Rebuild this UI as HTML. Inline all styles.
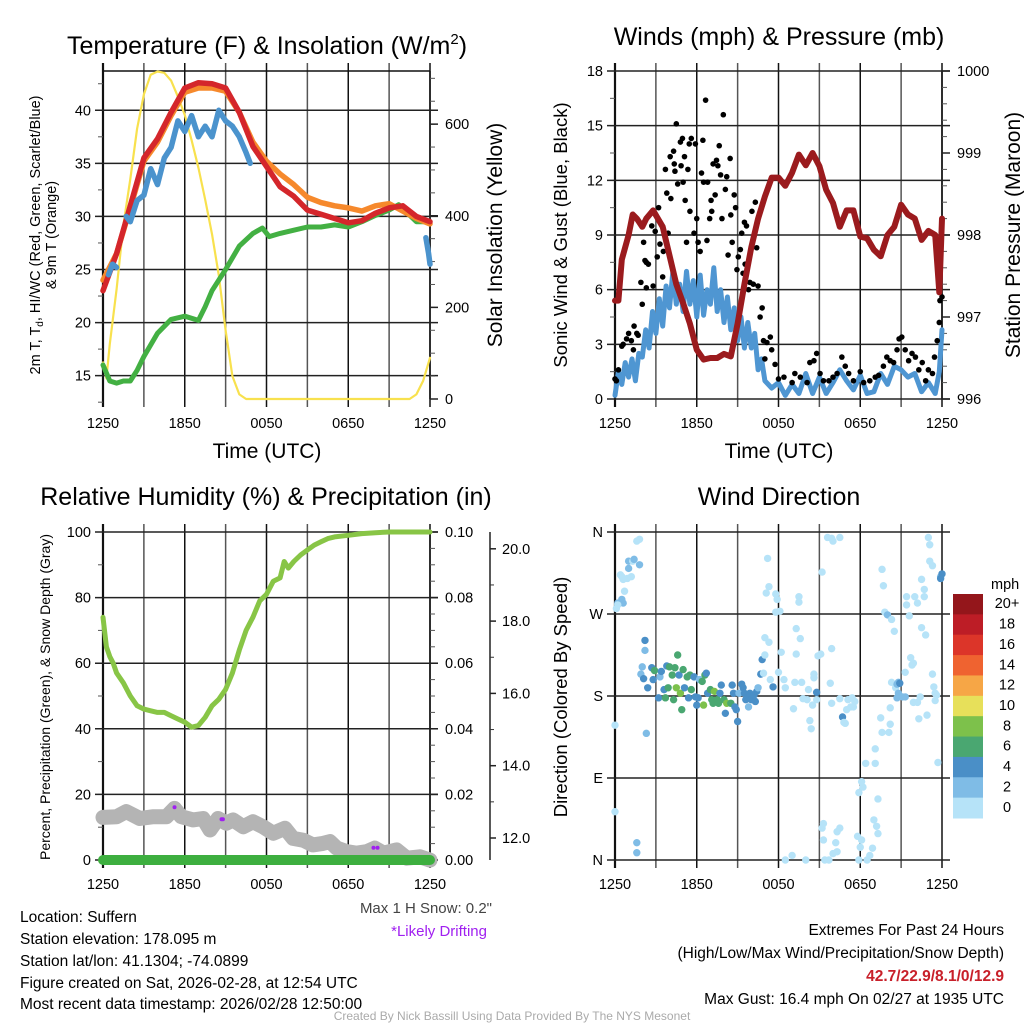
<!DOCTYPE html>
<html><head><meta charset="utf-8"><style>
html,body{margin:0;padding:0;background:#fff;}
svg{display:block;font-family:"Liberation Sans",sans-serif;}
</style></head><body>
<svg id="fig" width="1024" height="1024" viewBox="0 0 1024 1024" xmlns="http://www.w3.org/2000/svg">
<rect width="1024" height="1024" fill="#fff"/>
<g id="layer"></g>
<text x="267" y="54" font-size="25" text-anchor="middle">Temperature (F) &amp; Insolation (W/m<tspan dy="-10" font-size="15">2</tspan><tspan dy="10">)</tspan></text>
<text x="779" y="45" font-size="25" text-anchor="middle">Winds (mph) &amp; Pressure (mb)</text>
<text x="266" y="505" font-size="25" text-anchor="middle">Relative Humidity (%) &amp; Precipitation (in)</text>
<text x="779" y="505" font-size="25" text-anchor="middle">Wind Direction</text>
<text x="267" y="458" font-size="21" text-anchor="middle">Time (UTC)</text>
<text x="779" y="458" font-size="21" text-anchor="middle">Time (UTC)</text>
<text transform="translate(40,235) rotate(-90)" font-size="14.5" text-anchor="middle">2m T, T<tspan font-size="10" dy="3">d</tspan><tspan dy="-3">, HI/WC (Red, Green, Scarlet/Blue)</tspan></text>
<text transform="translate(56,235) rotate(-90)" font-size="14.5" text-anchor="middle">&amp; 9m T (Orange)</text>
<text transform="translate(502,235) rotate(-90)" font-size="21" text-anchor="middle">Solar Insolation (Yellow)</text>
<text transform="translate(567,235) rotate(-90)" font-size="18.5" text-anchor="middle">Sonic Wind &amp; Gust (Blue, Black)</text>
<text transform="translate(1020,235) rotate(-90)" font-size="21" text-anchor="middle">Station Pressure (Maroon)</text>
<text transform="translate(50,697) rotate(-90)" font-size="14" text-anchor="middle">Percent, Precipitation (Green), &amp; Snow Depth (Gray)</text>
<text transform="translate(567,697) rotate(-90)" font-size="18.5" text-anchor="middle">Direction (Colored By Speed)</text>
<text x="492" y="913" font-size="15" fill="#444" text-anchor="end">Max 1 H Snow: 0.2"</text>
<text x="487" y="936" font-size="15" fill="#a020f0" text-anchor="end">*Likely Drifting</text>
<g font-size="15.5">
<text x="20" y="922">Location: Suffern</text>
<text x="20" y="944">Station elevation: 178.095 m</text>
<text x="20" y="966">Station lat/lon: 41.1304; -74.0899</text>
<text x="20" y="988">Figure created on Sat, 2026-02-28, at 12:54 UTC</text>
<text x="20" y="1009">Most recent data timestamp: 2026/02/28 12:50:00</text>
</g>
<g font-size="15.5" text-anchor="end">
<text x="1004" y="935">Extremes For Past 24 Hours</text>
<text x="1004" y="958">(High/Low/Max Wind/Precipitation/Snow Depth)</text>
<text x="1004" y="981" fill="#c8202a" font-weight="bold">42.7/22.9/8.1/0/12.9</text>
<text x="1004" y="1004">Max Gust: 16.4 mph On 02/27 at 1935 UTC</text>
</g>
<text x="512" y="1020" font-size="12" fill="#aaa" text-anchor="middle">Created By Nick Bassill Using Data Provided By The NYS Mesonet</text>
</svg>
<script>
// ---------- DATA ----------
const redH=[0,1,2,3,4,5,6,7,8,9,10,11,12,13,14,15,16,17,18,19,20,21,22,23,24];
const redV=[23,26.5,31,35.5,37.3,39.8,42.1,42.6,42.5,42.1,39.8,36.6,34.7,32.8,31.9,30.6,30.2,29.8,29.4,29.6,30.3,30.8,31,30,29.5];
const orangeH=[0,1,2,3,4,5,6,7,8,9,10,11,12,13,14,15,16,17,18,19,20,21,22,23,24];
const orangeV=[24,26.5,30.8,35.2,37,39.5,41.7,42.1,42.1,41.8,39.8,37,35.2,34,33,31.8,31.3,31,30.8,30.5,31,31.2,30.5,29.8,29.3];
const blueH=[0.4,0.7,1,null,1.7,2,2.5,3,3.5,4,4.5,5,5.5,6,6.5,7,7.5,8,8.5,9,9.5,10,10.5,10.8,null,23.7,23.9,24];
const blueV=[24.5,25.5,25.2,null,30,29.5,31.5,32,34.5,33,35.5,36.5,39,38,39.5,37.5,38.5,37.5,40,39,38.5,37.5,36,35,null,28,26.5,25.5];
const greenH=[0,0.5,1,1.5,2,2.5,3,4,5,6,7,7.5,8,9,10,11,11.7,12.2,13,14,15,16,17,18,19,20,21,21.7,23,24];
const greenV=[16,14.5,14.3,14.5,14.5,15.5,16.8,19,20.3,20.6,20.2,21.5,23,25,27.2,28.4,28.9,28.1,28.4,28.7,29,29,29.2,29,29.5,30.1,30.6,31.1,29.5,29.5];
const solarH=[0,0.25,0.5,1,1.5,2,2.5,3,3.5,4,4.5,5,5.5,6,6.5,7,7.5,8,8.5,9,9.5,10,10.5,22.5,23,23.5,24];
const solarV=[80,45,120,240,380,480,590,665,708,715,712,695,660,620,565,505,435,360,270,150,50,10,0,0,10,40,90];

const presH=[0,0.25,0.5,1,1.3,1.6,2,2.3,2.8,3.5,4,4.5,5,5.5,6,6.5,7,7.5,8,8.5,9,9.5,10,10.5,11,11.5,12,12.5,13,13.5,14,14.5,15,15.5,16,16.5,17,17.5,18,18.5,19,19.5,20,20.5,21,21.5,22,22.5,23,23.5,23.8,24];
const presV=[997.2,997.2,997.7,998.0,998.25,998.2,998.1,998.2,998.3,998.1,997.75,997.4,997.17,996.92,996.6,996.48,996.5,996.5,996.55,996.52,996.92,997.4,997.85,998.2,998.47,998.7,998.7,998.6,998.76,998.98,998.85,999.0,998.84,998.55,998.39,998.1,998.3,998.3,997.98,997.96,997.82,997.74,998.0,998.1,998.37,998.25,998.2,997.94,998.05,998.0,997.3,998.2];
const windH=[0,0.25,0.5,0.75,1,1.25,1.5,1.75,2,2.25,2.5,2.75,3,3.25,3.5,3.75,4,4.25,4.5,4.75,5,5.25,5.5,5.75,6,6.25,6.5,6.75,7,7.25,7.5,7.75,8,8.25,8.5,8.75,9,9.25,9.5,9.75,10,10.25,10.5,10.75,11,11.5,12,12.5,13,13.5,14,14.5,15,15.5,16,16.5,17,17.5,18,18.5,19,19.5,20,20.5,21,21.5,22,22.5,23,23.5,23.8,24];
const windV=[0.2,1.5,0.8,2,1.2,2.2,1,2.5,2.3,3.8,2.8,4.8,3.6,5.5,4,6.2,5,7,5.2,6.3,4.8,7,5.2,6.5,4.5,6.8,4.6,6,5.2,7.2,4.8,6,4.2,5.6,3.8,5,3.2,4.5,2.8,4.2,2.8,3.6,1.6,2.2,1,0.6,0.9,0.2,0.8,0.3,1.4,0.3,1.2,0.3,0.9,1.6,1,0.5,1.3,0.3,0.4,1.4,0.8,1.8,1.6,1.2,1.4,0.4,0.9,0.3,1.5,3.8];
const gustH=[0,0.1,0.25,0.5,0.6,0.85,1,1.2,1.35,1.4,1.6,1.7,1.9,2,2.1,2.2,2.3,2.45,2.3,2.7,2.8,2.95,3.1,3.2,3.3,3.5,3.55,3.7,3.8,3.9,4.05,4.1,4.3,4.35,4.4,4.5,4.6,4.8,4.85,4.95,5,5.1,5.15,5.25,5.35,5.45,5.5,5.6,5.8,5.9,6,6.1,6.25,6.35,6.45,6.5,6.65,6.75,6.8,6.95,7.05,7.1,7.2,7.35,7.45,7.55,7.65,7.75,7.85,7.95,8.1,8.2,8.3,8.45,8.5,8.6,8.75,8.85,8.95,9.05,9.2,9.3,9.4,9.5,9.55,9.65,9.8,9.9,10.05,10.15,10.3,10.4,10.5,10.65,10.8,10.9,11,11.15,11.4,11.5,11.75,12,12.4,13,13.2,13.6,14.1,14.3,14.6,14.8,15.05,15.3,15.7,16,16.3,16.65,16.9,17.15,17.5,18,18.25,18.7,19.1,19.35,19.7,19.95,20.2,20.45,20.7,20.85,21.05,21.3,21.55,21.8,22.05,22.3,22.55,22.8,23,23.3,23.45,23.65,23.8,23.85,24];
const gustV=[1.1,1.0,1.6,2.9,3.0,3.3,3.6,3.2,2.7,4.0,3.6,3.5,6.4,5.2,8.6,7.6,7.5,7.4,6.1,9.5,6.2,9.2,7.8,10.5,8.5,6.7,8.1,12.6,11.3,9.1,13.3,11.0,13.6,12.9,12.5,15.1,11.8,14.1,12.8,14.3,11.9,13.3,10.9,8.6,12.6,14.0,10.3,14.3,9.1,14.0,9.9,8.6,8.1,12.4,14.2,11.9,16.4,8.7,11.9,9.9,10.9,10.3,12.9,11.2,13.1,12.8,13.9,12.3,9.9,15.6,11.5,12.2,7.9,13.2,10.1,8.6,11.2,10.5,7.1,7.8,8.2,9.1,6.9,9.7,7.4,9.5,6.0,6.4,10.3,6.3,10.8,8.3,6.2,4.5,5.0,3.2,2.2,3.1,3.4,2.7,1.9,1.1,1.2,0.9,1.4,1.2,0.9,2.0,2.1,2.5,1.4,1.0,1.0,1.2,1.4,2.3,1.8,1.4,1.0,1.5,0.9,1.0,1.2,1.3,1.8,2.3,2.1,2.0,2.7,3.3,3.4,2.7,2.1,2.5,2.3,1.6,2.0,1.0,1.6,1.4,2.3,3.2,4.2,5.4,5.6];

const rhH=[0,0.25,0.5,0.75,1,1.5,2,2.5,3,3.5,4,4.5,5,5.5,6,6.5,7,7.5,8,8.5,9,9.5,10,10.5,11,11.5,12,12.5,13,13.3,13.6,14,14.5,15,15.5,16,16.5,17,18,19,20,21,24];
const rhV=[74,65,62,60,57,54,50,47,46,45.5,45,45,44,43,42,40.5,41,43.5,47,49,52,57,64,70,74,79,81,85,86,91,89,91,93,94.5,96,97,98,98.5,99,99.5,99.8,100,100];
const precipH=[0,24];
const precipV=[0,0];
const snowH=[0,1,1.7,2.7,3.7,4.65,5.25,5.75,6.6,7.35,7.85,8.45,9.05,9.55,10.3,11,11.75,12.5,13.35,13.95,14.7,15.4,16.15,16.65,17.15,17.9,18.6,19.35,19.95,20.6,21.55,22.3,23.25,24];
const snowV=[12.57,12.59,12.73,12.54,12.59,12.59,12.82,12.59,12.5,12.54,12.22,12.54,12.41,12.5,12.31,12.45,12.31,12.13,12.27,11.99,11.94,11.81,11.85,11.9,11.72,11.62,11.58,11.62,11.72,11.58,11.67,11.44,11.48,11.39];
const driftH=[5.25,8.7,8.8,19.85,20.15];
const driftV=[12.85,12.52,12.52,11.73,11.73];

const dirH=[0,0,0.1,0.2,0.4,0.5,0.6,0.7,0.9,1.0,1.0,1.2,1.3,1.4,1.6,1.8,1.8,0.5,0.6,0.2,1.6,1.6,2.3,2.2,2.2,2.0,1.9,2.1,2.4,2.7,2.8,2.9,3.2,3.3,3.4,3.6,3.7,3.8,3.9,4.0,4.2,4.3,4.4,4.5,4.6,4.7,4.8,4.9,5.0,5.1,5.3,5.4,5.5,5.6,5.8,5.9,6.0,6.1,6.2,6.4,6.5,6.6,6.7,6.8,7.0,7.1,7.2,7.3,7.5,7.6,7.7,7.8,8.0,8.1,8.2,8.5,8.6,8.7,8.8,8.9,9.0,9.1,9.3,9.4,9.5,9.6,9.7,9.8,9.9,10.0,10.2,10.3,10.4,10.5,10.7,10.8,10.9,11.0,11.3,11.0,11.2,11.3,11.1,11.8,11.9,11.8,12.1,11.6,11.4,12.0,12.2,12.4,12.5,13.1,13.2,13.3,13.3,13.6,13.5,13.5,13.7,13.8,14.1,14.2,14.3,14.4,14.5,14.6,14.6,14.8,14.8,14.9,15.1,15.2,15.6,15.9,16.0,16.5,15.8,15.9,15.9,16.5,16.7,16.8,16.9,17.0,17.1,17.3,17.4,17.5,17.6,17.9,18.1,18.2,18.4,19.1,19.1,19.3,17.8,18.1,18.0,17.9,18.5,18.7,18.9,19.0,19.2,19.3,15.3,15.2,15.3,15.4,15.7,16.2,16.3,16.5,16.0,16.3,12.5,13.0,14.0,19.5,19.6,20.1,20.2,20.2,19.6,19.7,19.8,20.0,20.3,20.5,20.3,20.6,20.7,20.8,20.9,20.8,21.1,21.3,20.7,21.3,21.4,21.4,21.6,21.7,21.9,21.8,21.9,22.2,22.3,22.4,22.0,22.2,22.5,22.7,22.7,22.5,22.8,22.9,23.0,23.1,23.1,23.3,23.3,23.4,23.5,23.5,23.6,23.7,23.9,24,23.9];
const dirDeg=[148,53,276,282,313,311,308,295,309,320,328,311,328,330,350,352,324,286,282,280,19,8,139,241,230,212,204,199,189,211,198,208,178,201,207,187,178,213,189,212,203,176,211,189,225,203,183,165,209,189,201,178,203,187,201,179,170,178,198,196,170,203,205,183,187,176,172,185,176,172,183,192,176,161,172,172,192,183,168,165,152,183,193,189,183,176,178,168,183,176,181,174,185,189,204,220,205,244,239,225,331,300,293,292,286,272,273,190,198,206,228,198,189,166,195,226,254,243,289,283,195,177,176,187,153,144,170,200,204,176,184,224,226,316,354,353,350,354,194,232,172,177,157,151,150,165,176,168,178,168,174,74,86,80,106,106,122,67,26,22,14,0,0,5,13,44,37,29,40,35,22,0,0,19,31,35,7,9,0,5,0,156,140,140,149,167,319,301,272,269,264,251,195,189,193,195,194,183,179,179,178,206,289,280,268,222,216,214,173,173,155,179,289,282,308,289,297,255,247,159,354,346,328,323,204,190,183,175,181,107,311,314,309];
const dirSpd=[1,1,1,3,1,1,1,1,1,3,3,1,1,3,1,1,3,3,3,1,3,3,3,5,3,3,3,5,5,5,5,7,5,3,5,5,7,5,7,7,7,7,7,9,7,5,9,7,7,5,7,5,7,7,5,5,5,5,3,7,9,7,5,5,7,7,7,9,7,7,5,5,7,5,9,7,5,5,5,5,5,3,5,5,5,5,5,3,5,5,5,5,5,3,5,5,1,1,1,1,1,1,1,1,1,1,1,5,1,1,1,1,1,1,1,1,1,1,1,1,1,1,1,1,1,1,1,1,1,1,5,1,1,1,1,1,1,1,1,1,1,1,5,1,1,1,1,1,1,1,1,1,1,1,1,1,1,1,1,1,1,1,1,1,1,1,1,1,1,1,1,1,1,1,1,1,1,1,1,1,1,1,1,1,1,1,1,1,1,3,1,1,1,1,3,3,5,3,3,3,3,1,1,1,1,1,1,1,1,1,1,1,1,1,1,1,1,1,1,1,1,1,1,1,1,1,1,1,1,1,3,5,5,3];
const cbLabels=['20+','18','16','14','12','10','8','6','4','2','0'];
const cbColors=['#94161b','#bd1d26','#dc3529','#ef6330','#f6a646','#e7e05a','#7dc14b','#4aa771','#4a8fc7','#7fbce6','#b6e3f8'];
const xTickLabels=['1250','1850','0050','0650','1250'];
const dirLabels=['N','E','S','W','N'];

// ---------- HELPERS ----------
const NS='http://www.w3.org/2000/svg';
const layer=document.getElementById('layer');
function mk(tag,attrs,parent){const e=document.createElementNS(NS,tag);for(const k in attrs)e.setAttribute(k,attrs[k]);(parent||layer).appendChild(e);return e;}
function spdColor(s){const i=Math.min(10,Math.floor(s/2));return cbColors[10-i];}
function pathFrom(hs,vs,xs,ys){let d='',pen=false;for(let i=0;i<hs.length;i++){if(hs[i]===null||vs[i]===null){pen=false;continue;}d+=(pen?'L':'M')+xs(hs[i]).toFixed(1)+','+ys(vs[i]).toFixed(1);pen=true;}return d;}
function series(g,hs,vs,xs,ys,color,w,name){
  const p=mk('path',{d:pathFrom(hs,vs,xs,ys),fill:'none',stroke:color,'stroke-width':w,'stroke-linejoin':'round','stroke-linecap':'round'},g);
  
  
  return p;
}
function frame(name,L,R,T,B){
  const g=mk('g',{});
  
  
  const xs=h=>L+h/24*(R-L);
  for(let h=0;h<=24;h+=3){
    const gl=mk('line',{x1:xs(h),x2:xs(h),y1:T-8,y2:B+8,stroke:(h%6===0)?'#111':'#555','stroke-width':h===0?2.2:1.5},g);
    
    
  }
  for(let i=0;i<xTickLabels.length;i++){
    const t=mk('text',{x:xs(i*6),y:B+29,'font-size':14.5,'text-anchor':'middle'},g);
    t.textContent=xTickLabels[i];
    
    
  }
  return {g,xs};
}
function yAxis(g,L,R,T,B,ys,majors,minors,labels,side,grid){
  for(const v of minors){const y=ys(v);
    const tk=mk('line',{x1:side==='left'?L-5:R,x2:side==='left'?L:R+5,y1:y,y2:y,stroke:'#555','stroke-width':1},g);
    
    
  }
  majors.forEach((v,i)=>{const y=ys(v);
    if(grid){const gl=mk('line',{x1:L-8,x2:R+8,y1:y,y2:y,stroke:'#222','stroke-width':1.5},g);
      
      }
    else{const tk=mk('line',{x1:side==='left'?L-8:R,x2:side==='left'?L:R+8,y1:y,y2:y,stroke:'#222','stroke-width':1.5},g);
      
      }
    const t=mk('text',{x:side==='left'?L-12:R+15,y:y+5,'font-size':14.5,'text-anchor':side==='left'?'end':'start'},g);
    t.textContent=labels[i];
    
    
  });
}
function range(a,b,s){const r=[];for(let v=a;v<=b+1e-9;v+=s)r.push(+v.toFixed(4));return r;}

// ---------- PANEL 1: TEMPERATURE ----------
(function(){
  const L=103,R=430,T=71,B=399;
  const f=frame('temperature-panel',L,R,T,B);
  const yT=v=>B-(v-12.8)/(43.7-12.8)*(B-T);
  const yI=v=>B-v/716*(B-T);
  mk('line',{x1:L,x2:R,y1:T,y2:T,stroke:'#111','stroke-width':1.5},f.g);
  mk('line',{x1:R,x2:R,y1:T,y2:B,stroke:'#111','stroke-width':1.5},f.g);
  yAxis(f.g,L,R,T,B,yT,[15,20,25,30,35,40],range(12.5,42.5,2.5),['15','20','25','30','35','40'],'left',true);
  yAxis(f.g,L,R,T,B,yI,[0,200,400,600],range(0,700,50),['0','200','400','600'],'right',false);
  series(f.g,solarH,solarV,f.xs,yI,'#f8e14e',2.2,'solar-insolation-line');
  series(f.g,greenH,greenV,f.xs,yT,'#43b043',5,'dewpoint-line');
  series(f.g,orangeH,orangeV,f.xs,yT,'#f6892c',5.5,'9m-temp-line');
  series(f.g,redH,redV,f.xs,yT,'#d4262b',5.5,'2m-temp-line');
  series(f.g,blueH,blueV,f.xs,yT,'#4b93cd',5.5,'heat-index-windchill-line');
})();

// ---------- PANEL 2: WINDS ----------
(function(){
  const L=615,R=942,T=71,B=399;
  const f=frame('winds-panel',L,R,T,B);
  const yW=v=>B-v/18*(B-T);
  const yP=v=>B-(v-996)/4*(B-T);
  mk('line',{x1:R,x2:R,y1:T,y2:B,stroke:'#111','stroke-width':1.5},f.g);
  yAxis(f.g,L,R,T,B,yW,[0,3,6,9,12,15,18],range(0,18,1.5),['0','3','6','9','12','15','18'],'left',true);
  yAxis(f.g,L,R,T,B,yP,[996,997,998,999,1000],range(996,1000,0.2),['996','997','998','999','1000'],'right',false);
  series(f.g,windH,windV,f.xs,yW,'#4f96d2',5,'sonic-wind-line');
  for(let i=0;i<gustH.length;i++){
    const c=mk('circle',{cx:f.xs(gustH[i]),cy:yW(gustV[i]),r:2.8,fill:'#000'},f.g);
    
    
  }
  series(f.g,presH,presV,f.xs,yP,'#9b1b1e',6,'station-pressure-line');
})();

// ---------- PANEL 3: RH ----------
(function(){
  const L=103,R=430,T=532,B=860;
  const f=frame('humidity-panel',L,R,T,B);
  const yR=v=>B-v/100*(B-T);
  const yPr=v=>B-v/0.1*(B-T);
  const yS=s=>838-(s-12)*36.15;
  mk('line',{x1:R,x2:R,y1:T,y2:B,stroke:'#111','stroke-width':1.5},f.g);
  yAxis(f.g,L,R,T,B,yR,[0,20,40,60,80,100],range(0,100,10),['0','20','40','60','80','100'],'left',true);
  yAxis(f.g,L,R,T,B,yPr,[0,0.02,0.04,0.06,0.08,0.1],range(0,0.1,0.005),['0.00','0.02','0.04','0.06','0.08','0.10'],'right',false);
  const ax=mk('line',{x1:490,x2:490,y1:T,y2:B,stroke:'#222','stroke-width':1.5},f.g);
  
  
  const sMaj=[12,14,16,18,20];
  for(const v of [13,15,17,19]){const tk=mk('line',{x1:490,x2:494,y1:yS(v),y2:yS(v),stroke:'#333'},f.g);
    
    }
  sMaj.forEach(v=>{const tk=mk('line',{x1:490,x2:496,y1:yS(v),y2:yS(v),stroke:'#222','stroke-width':1.5},f.g);
    
    
    const t=mk('text',{x:502,y:yS(v)+5,'font-size':14.5},f.g);
    t.textContent=v.toFixed(1);
    
    });
  series(f.g,snowH,snowV,f.xs,yS,'#b4b4b4',15,'snow-depth-line');
  for(let i=0;i<driftH.length;i++){
    const c=mk('circle',{cx:f.xs(driftH[i]),cy:yS(driftV[i]),r:2,fill:'#a020f0'},f.g);
    
    
  }
  series(f.g,precipH,precipV,f.xs,yPr,'#3daf3f',10,'precipitation-line');
  series(f.g,rhH,rhV,f.xs,yR,'#88c546',5,'relative-humidity-line');
})();

// ---------- PANEL 4: DIRECTION ----------
(function(){
  const L=615,R=942,T=532,B=860;
  const f=frame('direction-panel',L,R,T,B);
  const yD=d=>B-d/360*(B-T);
  yAxis(f.g,L,R,T,B,yD,[0,90,180,270,360],[],dirLabels,'left',true);
  for(let i=0;i<dirH.length;i++){
    const c=mk('circle',{cx:f.xs(dirH[i]),cy:yD(dirDeg[i]),r:3.7,fill:spdColor(dirSpd[i])},f.g);
    
    
  }
  const cb=mk('g',{});
  
  
  const t0=mk('text',{x:991,y:589,'font-size':14.5},cb);
  t0.textContent='mph';
  
  
  const h=224/cbColors.length;
  for(let i=0;i<cbColors.length;i++){
    const r=mk('rect',{x:953,y:594+i*h,width:30,height:h+0.5,fill:cbColors[i]},cb);
    
    
    const t=mk('text',{x:1007,y:594+i*h+h/2+4,'font-size':14.5,'text-anchor':'middle'},cb);
    t.textContent=cbLabels[i];
    
    
  }
})();
</script>
</body></html>
